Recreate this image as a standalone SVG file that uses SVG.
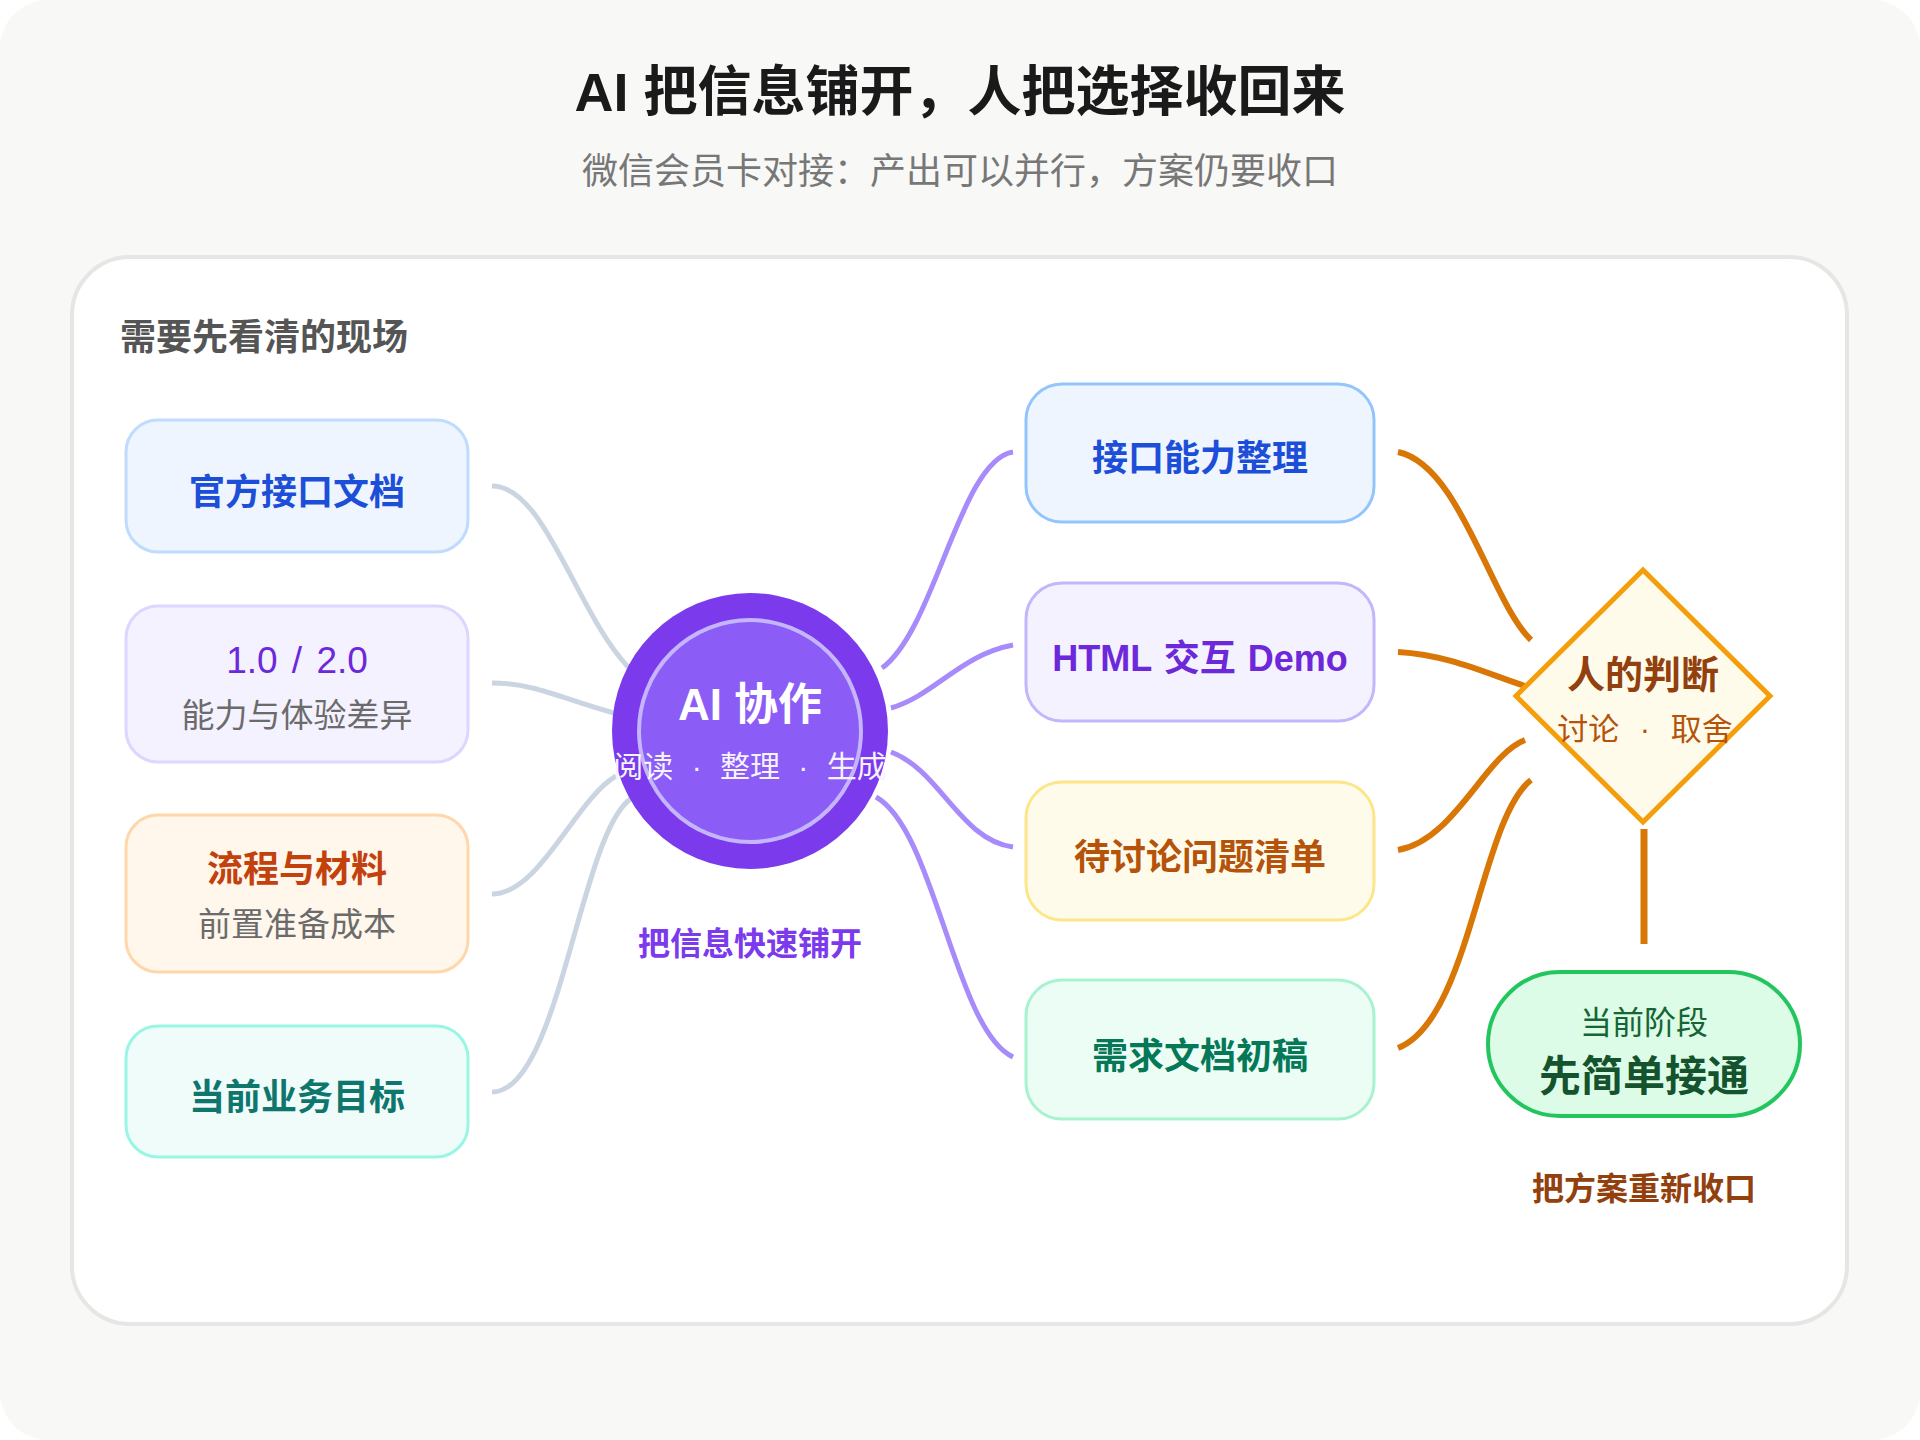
<svg xmlns="http://www.w3.org/2000/svg" width="1920" height="1440" viewBox="0 0 1920 1440">
<style>
text{font-family:"Liberation Sans","Noto Sans CJK SC",sans-serif;text-anchor:middle}
.b{font-weight:700}
.gl{fill:none;stroke:#cbd5e1;stroke-width:5}
.pl{fill:none;stroke:#a78bfa;stroke-width:5}
.ol{fill:none;stroke:#d97706;stroke-width:6}
</style>
<rect width="1920" height="1440" fill="#ffffff"/>
<rect x="0" y="0" width="1920" height="1440" rx="48" fill="#f8f8f6"/>
<text x="960" y="111" font-size="54" class="b" fill="#1a1a1a">AI 把信息铺开，人把选择收回来</text>
<text x="960" y="184" font-size="36" fill="#777777">微信会员卡对接：产出可以并行，方案仍要收口</text>
<rect x="72" y="257" width="1775" height="1067" rx="58" fill="#ffffff" stroke="#e6e6e4" stroke-width="4"/>
<text x="120" y="350" font-size="36" class="b" fill="#555555" style="text-anchor:start">需要先看清的现场</text>

<g id="connectors">
<path class="gl" d="M492 486 C545 486 575 610 628 667"/>
<path class="gl" d="M492 683 C535 683 565 700 614 713"/>
<path class="gl" d="M492 894 C540 894 575 800 616 776"/>
<path class="gl" d="M492 1092 C560 1092 580 830 632 798"/>
<path class="pl" d="M882 668 C935 630 960 460 1013 452"/>
<path class="pl" d="M891 708 C935 695 960 655 1013 645"/>
<path class="pl" d="M891 752 C940 770 960 840 1013 847"/>
<path class="pl" d="M876 797 C935 830 955 1030 1013 1057"/>
<path class="ol" d="M1398 452 C1460 465 1490 600 1531 640"/>
<path class="ol" d="M1398 652 C1450 655 1490 675 1525 686"/>
<path class="ol" d="M1398 850 C1455 840 1485 755 1525 740"/>
<path class="ol" d="M1398 1048 C1470 1020 1480 820 1531 780"/>
<path d="M1644 829 L1644 944" stroke="#d97706" stroke-width="7"/>
</g>

<g id="src-docs">
<rect x="126" y="420" width="342" height="132" rx="32" fill="#eef5ff" stroke="#bfdbfe" stroke-width="3"/>
<text x="297" y="505" font-size="36" class="b" fill="#1d4ed8">官方接口文档</text>
</g>
<g id="src-versions">
<rect x="126" y="606" width="342" height="156" rx="32" fill="#f4f2ff" stroke="#ddd6fe" stroke-width="3"/>
<text x="297" y="673" font-size="37" fill="#6d28d9" word-spacing="4">1.0 / 2.0</text>
<text x="297" y="727" font-size="33" fill="#6b6b6b">能力与体验差异</text>
</g>
<g id="src-process">
<rect x="126" y="815" width="342" height="157" rx="32" fill="#fff6ec" stroke="#fed7aa" stroke-width="3"/>
<text x="297" y="882" font-size="36" class="b" fill="#c2410c">流程与材料</text>
<text x="297" y="936" font-size="33" fill="#6b6b6b">前置准备成本</text>
</g>
<g id="src-goal">
<rect x="126" y="1026" width="342" height="131" rx="32" fill="#effcf9" stroke="#99f6e4" stroke-width="3"/>
<text x="297" y="1110" font-size="36" class="b" fill="#0f766e">当前业务目标</text>
</g>

<g id="ai">
<circle cx="750" cy="731" r="138" fill="#7c3aed"/>
<circle cx="750" cy="731" r="111" fill="#8b5cf6" stroke="#c4b5fd" stroke-width="4"/>
<text x="750" y="720" font-size="44" class="b" fill="#ffffff">AI 协作</text>
<text x="750" y="777" font-size="30" fill="#f5f3ff" word-spacing="10">阅读 · 整理 · 生成</text>
<text x="750" y="955" font-size="32" class="b" fill="#7c3aed">把信息快速铺开</text>
</g>

<g id="out-api">
<rect x="1026" y="384" width="348" height="138" rx="36" fill="#eef5ff" stroke="#93c5fd" stroke-width="3"/>
<text x="1200" y="471" font-size="36" class="b" fill="#1d4ed8">接口能力整理</text>
</g>
<g id="out-demo">
<rect x="1026" y="583" width="348" height="138" rx="36" fill="#f4f2ff" stroke="#c4b5fd" stroke-width="3"/>
<text x="1200" y="671" font-size="36" class="b" fill="#6d28d9" word-spacing="2">HTML 交互 Demo</text>
</g>
<g id="out-questions">
<rect x="1026" y="782" width="348" height="138" rx="36" fill="#fffbeb" stroke="#fde68a" stroke-width="3"/>
<text x="1200" y="870" font-size="36" class="b" fill="#b45309">待讨论问题清单</text>
</g>
<g id="out-prd">
<rect x="1026" y="980" width="348" height="139" rx="36" fill="#ecfdf5" stroke="#a7f3d0" stroke-width="3"/>
<text x="1200" y="1069" font-size="36" class="b" fill="#047857">需求文档初稿</text>
</g>

<g id="judge">
<polygon points="1643,570 1770,696 1643,822 1516,696" fill="#fffbeb" stroke="#f59e0b" stroke-width="5" stroke-linejoin="miter"/>
<text x="1643" y="688" font-size="38" class="b" fill="#92400e">人的判断</text>
<text x="1645" y="740" font-size="31" fill="#b45309" word-spacing="12">讨论 · 取舍</text>
</g>

<g id="result">
<rect x="1488" y="972" width="312" height="144" rx="72" fill="#dcfce7" stroke="#22c55e" stroke-width="4"/>
<text x="1644" y="1034" font-size="32" fill="#166534">当前阶段</text>
<text x="1644" y="1091" font-size="42" class="b" fill="#14532d">先简单接通</text>
<text x="1644" y="1200" font-size="32" class="b" fill="#92400e">把方案重新收口</text>
</g>
</svg>
